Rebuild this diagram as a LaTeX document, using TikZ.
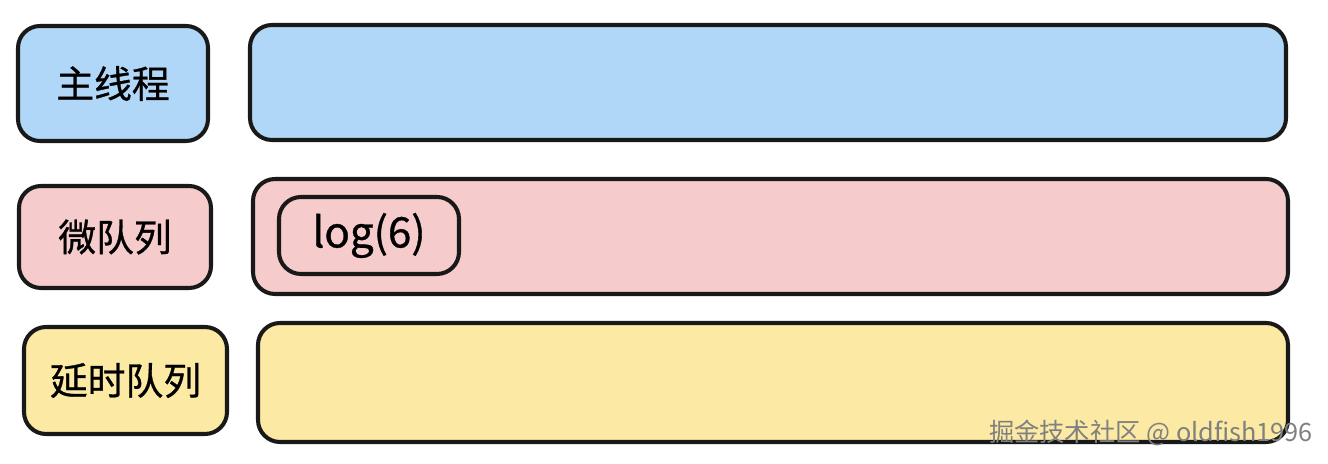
\documentclass[tikz,border=0pt]{standalone}
\usepackage{fontspec}
\setmainfont{Noto Sans CJK SC}
\newfontfamily\labelfont[FakeBold=0.8]{Noto Sans CJK SC}
\usepackage{tikz}

\definecolor{mainblue}{RGB}{177,215,248}
\definecolor{micropink}{RGB}{246,203,204}
\definecolor{delayyellow}{RGB}{251,233,164}

\tikzset{
    box/.style={shape=rectangle, draw=black!90, line width=2.3pt, rounded corners=0.44cm,
        inner sep=0pt, font=\labelfont\fontsize{21.5}{26}\selectfont},
}

\begin{document}
\begin{tikzpicture}
    \useasboundingbox (0,0) rectangle (26.56,-9.28);
    % labels
    \node[box, fill=mainblue, minimum width=3.80cm, minimum height=2.30cm] at (2.26,-1.67) (main) {主线程};
    \node[box, fill=micropink, minimum width=3.84cm, minimum height=2.04cm] at (2.30,-4.74) (micro) {微队列};
    \node[box, fill=delayyellow, minimum width=4.06cm, minimum height=2.14cm] at (2.51,-7.61) (delay) {延时队列};
    % queues
    \node[box, fill=mainblue, minimum width=20.72cm, minimum height=2.30cm] at (15.36,-1.65) (mainbar) {};
    \node[box, fill=micropink, minimum width=20.70cm, minimum height=2.30cm] at (15.41,-4.73) (microbar) {};
    \node[box, fill=delayyellow, minimum width=20.60cm, minimum height=2.38cm] at (15.46,-7.65) (delaybar) {};
    % task
    \node[box, fill=micropink, minimum width=3.60cm, minimum height=1.54cm,
        font=\labelfont\fontsize{24}{28}\selectfont] at (7.38,-4.71) (task) {log(6)};
    % watermark
    \node[text=black!50, font=\fontsize{14.4}{17}\selectfont, inner sep=0pt] at (23.02,-8.66) (mark) {掘金技术社区 @ oldfish1996};
\end{tikzpicture}
\end{document}
